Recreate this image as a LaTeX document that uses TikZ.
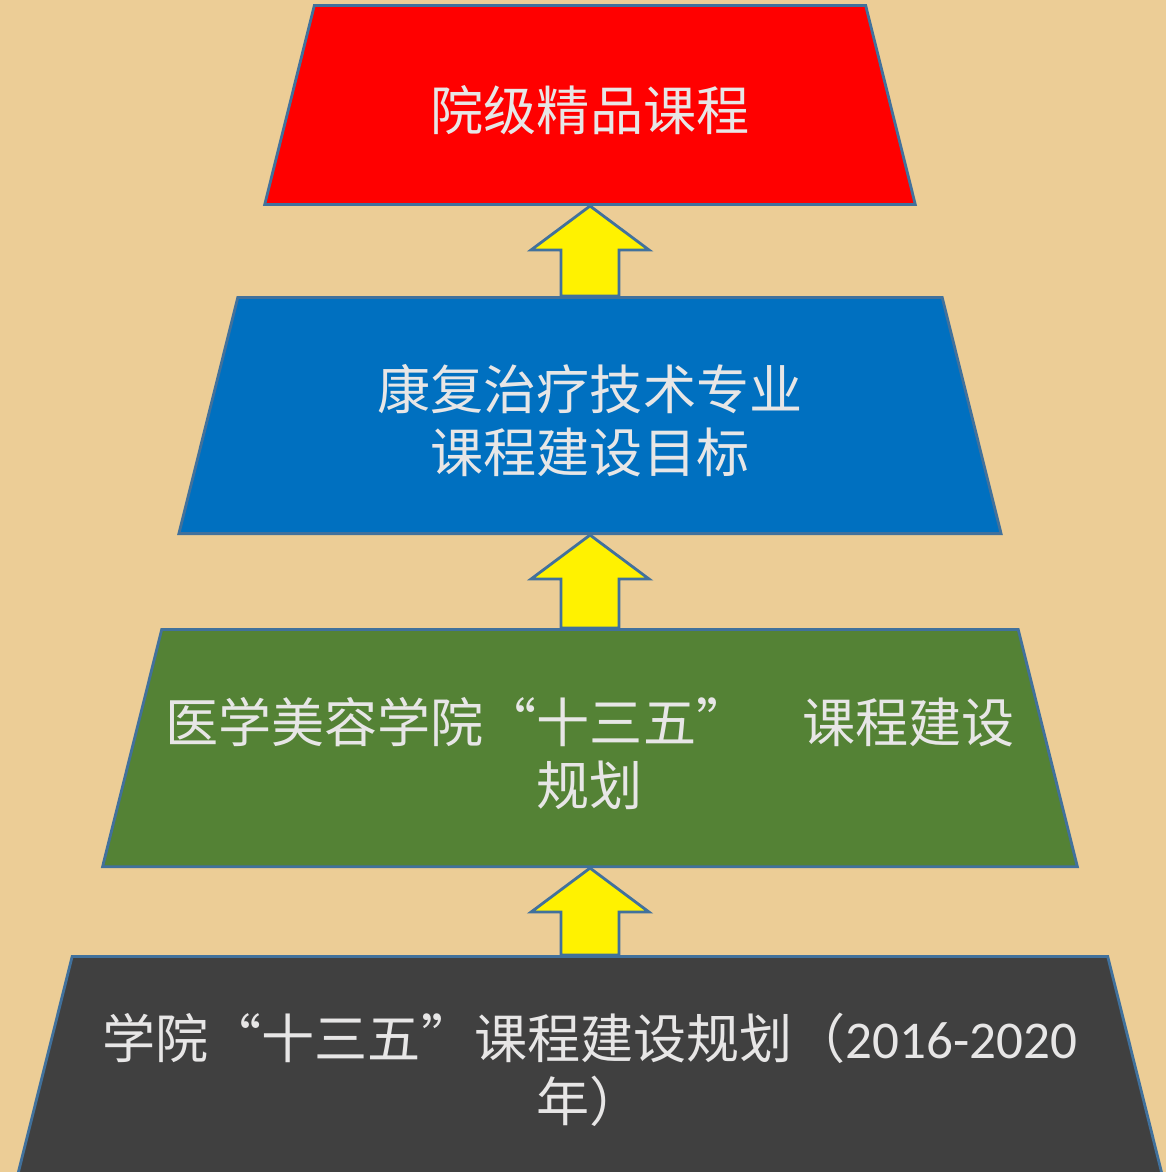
\documentclass[tikz,border=0pt]{standalone}
\usepackage{fontspec}
\setmainfont{Noto Sans CJK SC}
\newfontfamily\latinfont{Carlito}
\usepackage{xcolor}
\usetikzlibrary{calc, positioning, shapes.geometric}

\definecolor{parchment}{RGB}{236,205,150}
\definecolor{edgeblue}{RGB}{65,113,156}
\definecolor{tierred}{RGB}{255,0,0}
\definecolor{tierblue}{RGB}{0,112,192}
\definecolor{tiergreen}{RGB}{84,130,53}
\definecolor{tierdark}{RGB}{64,64,64}
\definecolor{labelgray}{RGB}{231,230,230}

\tikzset{
    tier/.style={shape=trapezium, draw=edgeblue, line width=0.8pt,
        trapezium angle=76, inner sep=0pt, text=labelgray,
        font=\fontsize{15.1pt}{17.9pt}\selectfont},
    liftarrow/.style={draw=edgeblue, line width=0.8pt, fill=yellow, line join=miter}
}

% text box of a tier: top width, height, text
\newcommand{\tiertext}[3]{\parbox[c][#2][c]{#1}{\vspace*{0.1cm}\centering #3}}

% block arrow from the top of #1 up to the bottom of #2
\newcommand{\blockup}[2]{%
    \draw[liftarrow] (#2.south) -- ++(59,44) -- ++(-30,0) |- ($(#1.north)+(29,0)$)
        -- ($(#1.north)+(-29,0)$) |- ($(#2.south)+(-29,44)$) -- ++(-30,0) -- cycle;
}

\begin{document}
\begin{tikzpicture}[x=0.01cm, y=-0.01cm]
    \useasboundingbox (0,0) rectangle (1166,1172);
    \clip (0,0) rectangle (1166,1172);
    \fill[parchment] (0,0) rectangle (1166,1172);

    \node[tier, fill=tierred] (top) at (590,105)
        {\tiertext{5.51cm}{1.99cm}{院级精品课程}};
    \node[tier, fill=tierblue, below=0.90cm of top] (major)
        {\tiertext{7.04cm}{2.36cm}{康复治疗技术专业\\课程建设目标}};
    \node[tier, fill=tiergreen, below=0.93cm of major] (school)
        {\tiertext{8.56cm}{2.37cm}{医学美容学院“十三五”　课程建设\\规划}};
    \node[tier, fill=tierdark, below=0.87cm of school] (college)
        {\tiertext{10.35cm}{2.17cm}{学院“十三五”课程建设规划（{\latinfont 2016-2020}\\年）}};

    \blockup{major}{top}
    \blockup{school}{major}
    \blockup{college}{school}
\end{tikzpicture}
\end{document}
